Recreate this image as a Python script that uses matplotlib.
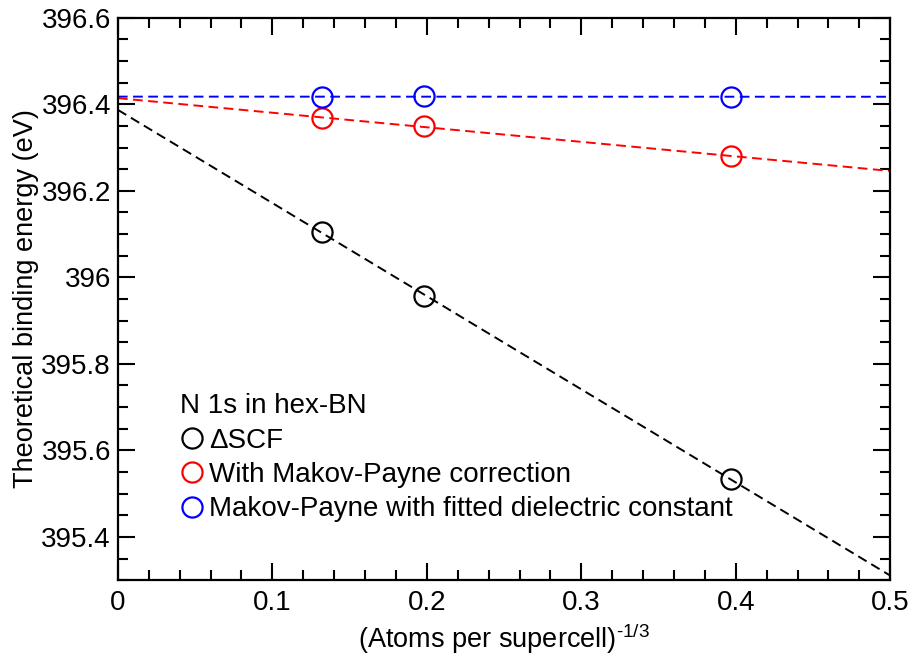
import matplotlib
matplotlib.use('Agg')
import matplotlib.pyplot as plt
from matplotlib.lines import Line2D
from matplotlib.ticker import MultipleLocator, FuncFormatter
import numpy as np

plt.rcParams['font.family'] = ['Liberation Sans', 'DejaVu Sans']
plt.rcParams['mathtext.fontset'] = 'custom'
plt.rcParams['mathtext.rm'] = 'Liberation Sans'
plt.rcParams['mathtext.it'] = 'Liberation Sans'

# (atoms per supercell)^(-1/3)
x = [0.132, 0.198, 0.397]
# N 1s binding energies (eV)
e_dscf = [396.105, 395.958, 395.533]
e_mp = [396.368, 396.350, 396.280]
e_mp_fit = [396.416, 396.420, 396.417]

labels = ['ΔSCF', 'With Makov-Payne correction',
          'Makov-Payne with fitted dielectric constant']
colors = ['black', 'red', 'blue']
series = [e_dscf, e_mp, e_mp_fit]

fig = plt.figure(figsize=(9.14, 6.6), dpi=100)
ax = fig.add_axes([0.129, 0.121, 0.845, 0.852])

xx = np.array([0.0, 0.5])
for y, c in zip(series, colors):
    # linear extrapolation to infinite supercell
    k, b = np.polyfit(x, y, 1)
    ax.plot(xx, k * xx + b, color=c, lw=1.4, ls=(0, (5, 2.8)))
    ax.plot(x, y, 'o', mfc='none', mec=c, ms=14.5, mew=1.6)

ax.set_xlim(0, 0.5)
ax.set_ylim(395.3, 396.6)
ax.xaxis.set_major_locator(MultipleLocator(0.1))
ax.xaxis.set_minor_locator(MultipleLocator(0.02))
ax.yaxis.set_major_locator(MultipleLocator(0.2))
ax.yaxis.set_minor_locator(MultipleLocator(0.05))
fmt = FuncFormatter(lambda v, p: '{:g}'.format(round(v, 3)))
ax.xaxis.set_major_formatter(fmt)
ax.yaxis.set_major_formatter(fmt)
ax.tick_params(which='both', direction='in', top=True, right=True,
               labelsize=20, width=1.5)
ax.tick_params(which='major', length=12)
ax.tick_params(which='minor', length=7)
ax.tick_params(axis='x', pad=7)
ax.tick_params(axis='y', pad=5)
for s in ax.spines.values():
    s.set_linewidth(1.6)

ax.set_xlabel('(Atoms per supercell)$^{\u20101/3}$', fontsize=19.5, labelpad=4)
ax.set_ylabel('Theoretical binding energy (eV)', fontsize=19.5, labelpad=2)

handles = [Line2D([], [], ls='none', marker='o', mfc='none', mec=c,
                  ms=14.5, mew=1.6) for c in colors]
leg = ax.legend(handles, labels, title='N 1s in hex-BN', loc='upper left',
                bbox_to_anchor=(0.062, 0.357), frameon=False, fontsize=20,
                title_fontsize=20, handlelength=0.9, handletextpad=0.15,
                labelspacing=0.3, borderpad=0, alignment='left')

fig.savefig('out.png', dpi=100)
